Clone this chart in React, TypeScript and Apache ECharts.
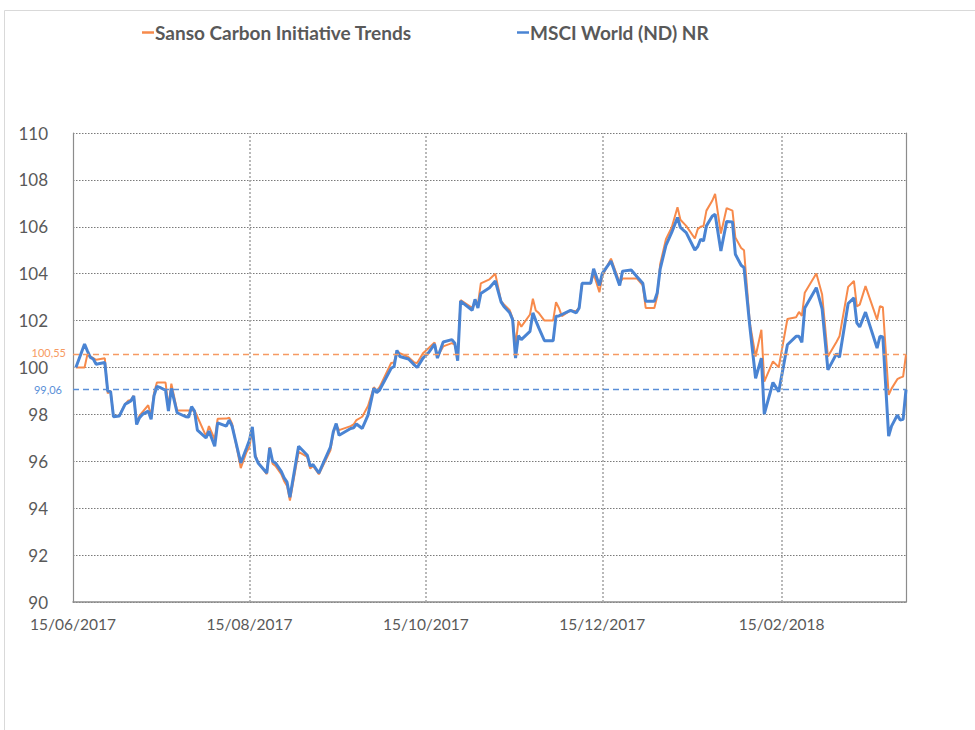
import React, { useEffect, useRef } from "react";
import * as echarts from "echarts";

// ---- data ----
const dates: string[] = [
  "2017-06-16","2017-06-19","2017-06-20","2017-06-21","2017-06-22","2017-06-23","2017-06-26","2017-06-27","2017-06-28","2017-06-29",
  "2017-07-01","2017-07-03","2017-07-04","2017-07-05","2017-07-06","2017-07-07","2017-07-08","2017-07-09","2017-07-11","2017-07-12",
  "2017-07-13","2017-07-14","2017-07-15","2017-07-17","2017-07-18","2017-07-19","2017-07-21","2017-07-24","2017-07-25","2017-07-26",
  "2017-07-27","2017-07-28","2017-07-31","2017-08-01","2017-08-03","2017-08-04","2017-08-07","2017-08-08","2017-08-09","2017-08-12",
  "2017-08-14","2017-08-15","2017-08-16","2017-08-17","2017-08-18","2017-08-21","2017-08-22","2017-08-23","2017-08-24","2017-08-26",
  "2017-08-27","2017-08-28","2017-08-29","2017-09-01","2017-09-04","2017-09-05","2017-09-06","2017-09-08","2017-09-12","2017-09-13",
  "2017-09-14","2017-09-15","2017-09-19","2017-09-20","2017-09-21","2017-09-23","2017-09-25","2017-09-27","2017-09-28","2017-09-29",
  "2017-10-03","2017-10-04","2017-10-05","2017-10-06","2017-10-09","2017-10-11","2017-10-12","2017-10-14","2017-10-16","2017-10-18",
  "2017-10-19","2017-10-21","2017-10-24","2017-10-25","2017-10-26","2017-10-27","2017-10-31","2017-11-01","2017-11-02","2017-11-03",
  "2017-11-06","2017-11-08","2017-11-10","2017-11-11","2017-11-13","2017-11-14","2017-11-15","2017-11-16","2017-11-17","2017-11-20",
  "2017-11-21","2017-11-22","2017-11-23","2017-11-25","2017-11-28","2017-11-29","2017-11-30","2017-12-01","2017-12-04","2017-12-06",
  "2017-12-07","2017-12-08","2017-12-11","2017-12-12","2017-12-14","2017-12-15","2017-12-18","2017-12-21","2017-12-22","2017-12-25",
  "2017-12-27","2017-12-29","2017-12-30","2018-01-02","2018-01-03","2018-01-04","2018-01-06","2018-01-08","2018-01-10","2018-01-11",
  "2018-01-13","2018-01-16","2018-01-17","2018-01-18","2018-01-19","2018-01-20","2018-01-22","2018-01-23","2018-01-25","2018-01-27",
  "2018-01-29","2018-01-30","2018-02-01","2018-02-02","2018-02-04","2018-02-06","2018-02-08","2018-02-09","2018-02-12","2018-02-14",
  "2018-02-17","2018-02-20","2018-02-21","2018-02-22","2018-02-23","2018-02-27","2018-03-01","2018-03-03","2018-03-06","2018-03-07",
  "2018-03-10","2018-03-12","2018-03-13","2018-03-14","2018-03-16","2018-03-20","2018-03-21","2018-03-22","2018-03-24","2018-03-25",
  "2018-03-27","2018-03-28","2018-03-29","2018-03-30",
];

const msciValues: number[] = [
  100.00,101.00,100.70,100.43,100.36,100.14,100.21,99.00,98.97,97.90,
  97.93,98.43,98.50,98.57,98.79,97.57,97.86,98.00,98.14,97.79,
  98.79,99.19,99.15,99.03,98.14,99.11,98.07,97.90,97.89,98.33,
  98.14,97.33,97.00,97.29,96.64,97.64,97.50,97.76,97.50,95.93,
  96.57,96.90,97.47,96.21,95.93,95.50,96.57,96.00,95.93,95.57,
  95.29,95.11,94.47,96.64,96.26,95.80,95.86,95.50,96.61,97.26,
  97.61,97.11,97.40,97.43,97.59,97.40,97.97,99.11,98.93,99.04,
  99.97,100.04,100.73,100.47,100.36,100.11,100.00,100.40,100.64,101.00,
  100.40,101.09,101.19,101.04,100.29,102.83,102.44,102.91,102.54,103.16,
  103.40,103.69,102.80,102.60,102.33,102.04,100.40,101.36,101.19,101.54,
  102.33,102.00,101.70,101.14,101.14,102.19,102.20,102.26,102.44,102.33,
  102.54,103.59,103.59,104.21,103.50,104.01,104.54,103.50,104.11,104.16,
  103.87,103.59,102.83,102.83,103.19,104.19,105.21,105.76,106.40,105.97,
  105.75,105.01,105.16,105.47,105.40,106.04,106.45,106.54,104.97,106.23,
  106.21,104.83,104.36,104.26,101.76,99.54,100.40,98.01,99.36,98.97,
  100.97,101.33,101.33,101.07,102.54,103.40,102.50,99.90,100.59,100.44,
  102.73,102.97,101.90,101.73,102.36,100.83,101.33,101.30,97.07,97.50,
  97.97,97.76,97.79,99.06,
];

const sansoValues: number[] = [
  100.00,100.00,100.57,100.47,100.40,100.33,100.39,98.90,99.00,97.90,
  97.95,98.43,98.58,98.61,98.79,97.62,97.95,98.10,98.39,97.95,
  98.90,99.36,99.36,99.36,98.30,99.31,98.17,98.17,98.17,98.17,
  98.17,97.90,97.07,97.50,96.93,97.81,97.82,97.86,97.60,95.71,
  96.40,96.61,97.40,96.30,95.95,95.45,96.60,95.90,95.80,95.45,
  95.15,94.95,94.33,96.40,96.19,95.69,95.80,95.45,96.47,97.21,
  97.54,97.33,97.50,97.57,97.76,97.90,98.36,99.16,99.00,99.16,
  100.19,100.21,100.69,100.61,100.44,100.21,100.19,100.61,100.83,101.07,
  100.47,100.90,101.04,100.97,100.47,102.87,102.54,102.76,102.70,103.59,
  103.76,104.00,102.83,102.69,102.44,102.10,100.97,101.97,101.74,102.26,
  102.93,102.43,102.33,102.00,102.00,102.79,102.54,102.19,102.43,102.40,
  102.56,103.59,103.59,104.00,103.21,103.90,104.64,103.61,103.79,103.79,
  103.79,103.50,102.54,102.54,103.04,104.40,105.47,105.97,106.83,106.30,
  106.04,105.50,105.90,106.00,106.04,106.69,107.11,107.40,105.71,106.80,
  106.69,105.54,105.10,105.00,101.90,100.47,101.61,99.40,100.26,100.01,
  102.07,102.14,102.37,102.20,103.19,104.01,103.11,100.47,101.10,101.33,
  103.44,103.69,102.61,102.68,103.47,102.04,102.61,102.57,98.83,99.10,
  99.50,99.57,99.61,100.55,
];

const seriesNames = ["Sanso Carbon Initiative Trends", "MSCI World (ND) NR"];
const xAxisStart = "2017-06-15";
const xAxisEnd = "2018-03-30";
const xTickDates = ["2017-06-15", "2017-08-15", "2017-10-15", "2017-12-15", "2018-02-15"];
const sansoLast = 100.55;
const msciLast = 99.06;

const ORANGE = "#F78A4B";
const BLUE = "#4A84D3";
const ORANGE_DASH = "#F79A62";
const BLUE_DASH = "#5A8FD8";
const FONT = "Lato, 'Noto Sans', sans-serif";

function ts(s: string): number {
  const [y, m, d] = s.split("-").map(Number);
  return Date.UTC(y, m - 1, d);
}
function fmtDate(v: number): string {
  const d = new Date(v);
  const dd = String(d.getUTCDate()).padStart(2, "0");
  const mm = String(d.getUTCMonth() + 1).padStart(2, "0");
  return `${dd}/${mm}/${d.getUTCFullYear()}`;
}
function fmtComma(v: number): string {
  return v.toFixed(2).replace(".", ",");
}

export default function App() {
  const ref = useRef<HTMLDivElement>(null);
  useEffect(() => {
    if (!ref.current) return;
    const chart = echarts.init(ref.current, undefined, { renderer: "svg" });
    const xTicks = xTickDates.map(ts);
    const sansoData = dates.map((d, i) => [ts(d), sansoValues[i]]);
    const msciData = dates.map((d, i) => [ts(d), msciValues[i]]);

    const legendText = { color: "#595959", fontSize: 19, fontWeight: "bold", fontFamily: FONT };

    chart.setOption({
      animation: false,
      backgroundColor: "#ffffff",
      textStyle: { fontFamily: FONT },
      graphic: [
        {
          type: "rect",
          shape: { x: 4.5, y: 10.5, width: 1200, height: 1000 },
          style: { fill: "none", stroke: "#d9d9d9", lineWidth: 1 },
          silent: true,
        },
      ],
      legend: [
        {
          data: [seriesNames[0]],
          left: 137,
          top: 18,
          icon: "rect",
          itemWidth: 12,
          itemHeight: 2.5,
          itemGap: 0,
          textStyle: { ...legendText, padding: [0, 0, 0, -4] },
        },
        {
          data: [seriesNames[1]],
          left: 512,
          top: 18,
          icon: "rect",
          itemWidth: 12,
          itemHeight: 2.5,
          itemGap: 0,
          textStyle: { ...legendText, padding: [0, 0, 0, -4] },
        },
      ],
      grid: { left: 73, right: 69, top: 133, bottom: 128, containLabel: false },
      xAxis: {
        type: "value",
        min: ts(xAxisStart),
        max: ts(xAxisEnd),
        axisLine: { show: true, lineStyle: { color: "#8c8c8c", width: 1.5 } },
        axisTick: { show: false, customValues: xTicks },
        axisLabel: {
          customValues: xTicks,
          formatter: (v: number) => fmtDate(v),
          color: "#595959",
          fontSize: 15.5,
          fontFamily: FONT,
          margin: 14,
        },
        splitLine: { show: false },
      },
      yAxis: [
        {
          type: "value",
          min: 90,
          max: 110,
          interval: 2,
          axisLine: { show: true, lineStyle: { color: "#8c8c8c", width: 1.2 } },
          axisTick: { show: false },
          axisLabel: { color: "#595959", fontSize: 17, fontFamily: FONT, margin: 25 },
          splitLine: { show: true, lineStyle: { color: "#7a7a7a", width: 1, type: [1.5, 1.5] } },
        },
        {
          type: "value",
          position: "right",
          min: 90,
          max: 110,
          interval: 2,
          axisLine: { show: true, lineStyle: { color: "#8c8c8c", width: 1.2 } },
          axisTick: { show: false },
          axisLabel: { show: false },
          splitLine: { show: false },
        },
      ],
      series: [
        {
          name: "grid-markers",
          type: "line",
          data: [[ts(xAxisStart), 100]],
          showSymbol: false,
          lineStyle: { opacity: 0 },
          silent: true,
          z: 1,
          markLine: {
            silent: true,
            symbol: "none",
            animation: false,
            data: [
              ...xTicks.slice(1).map((t) => ({
                xAxis: t,
                lineStyle: { color: "#a8a8a8", width: 1.6, type: [2, 2] },
                label: { show: false },
              })),
              {
                yAxis: sansoLast,
                lineStyle: { color: ORANGE_DASH, width: 1.3, type: [6, 4] },
                label: {
                  show: true,
                  position: "start",
                  distance: 7,
                  offset: [0, -2],
                  formatter: () => fmtComma(sansoLast),
                  color: ORANGE_DASH,
                  fontSize: 11,
                  fontFamily: FONT,
                },
              },
              {
                yAxis: msciLast,
                lineStyle: { color: BLUE_DASH, width: 1.3, type: [6, 4] },
                label: {
                  show: true,
                  position: "start",
                  distance: 11,
                  formatter: () => fmtComma(msciLast),
                  color: BLUE_DASH,
                  fontSize: 11,
                  fontFamily: FONT,
                },
              },
            ],
          },
        },
        {
          name: seriesNames[0],
          type: "line",
          data: sansoData,
          showSymbol: false,
          color: ORANGE,
          lineStyle: { color: ORANGE, width: 2 },
          z: 3,
        },
        {
          name: seriesNames[1],
          type: "line",
          data: msciData,
          showSymbol: false,
          color: BLUE,
          lineStyle: { color: BLUE, width: 3 },
          z: 4,
        },
      ],
    });
    return () => chart.dispose();
  }, []);

  return (
    <div
      ref={ref}
      style={{ position: "absolute", left: 0, top: 0, width: 975, height: 730, background: "#fff" }}
    />
  );
}
